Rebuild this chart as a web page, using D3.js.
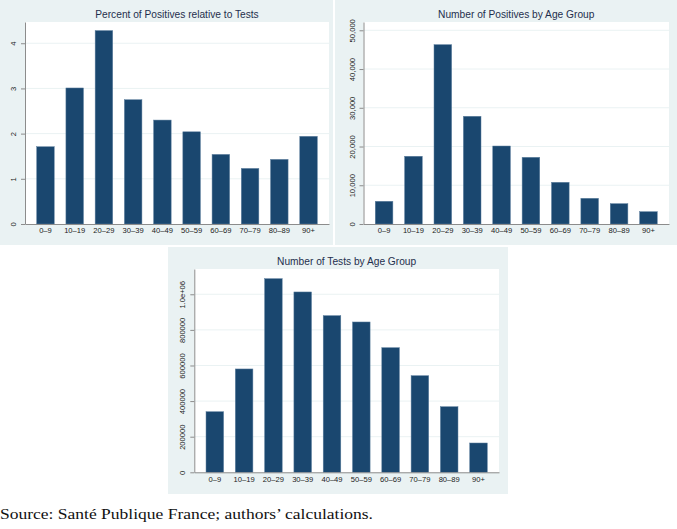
<!DOCTYPE html>
<html>
<head>
<meta charset="utf-8">
<script src="https://cdn.jsdelivr.net/npm/d3@7"></script>
<style>
  html, body { margin: 0; padding: 0; background: #fff; }
  svg { display: block; font-family: "Liberation Sans", Arial, Helvetica, sans-serif; }
</style>
</head>
<body>
<svg id="chart" width="677" height="529"></svg>
<script>
// Age groups (x categories)
const ageGroups = ["0–9", "10–19", "20–29", "30–39", "40–49", "50–59", "60–69", "70–79", "80–89", "90+"];

// Series values
const pctPositive = [1.71, 3.01, 4.28, 2.75, 2.30, 2.04, 1.54, 1.23, 1.43, 1.94];
const positives   = [5860, 17480, 46290, 27800, 20130, 17210, 10760, 6630, 5250, 3180];
const tests       = [340400, 580500, 1087700, 1013000, 880000, 844400, 700000, 542700, 368500, 164600];

// Y tick values
const pctTicks  = [0, 1, 2, 3, 4];
const posTicks  = [0, 10000, 20000, 30000, 40000, 50000];
const testTicks = [0, 200000, 400000, 600000, 800000, 1000000];

// Top of each value axis
const pctMax = 4.47, posMax = 52140, testMax = 1142000;

const svg = d3.select("#chart");

// Colours (Stata s2color look)
const panelBg = "#eaf2f3", barFill = "#1a476f", axisCol = "#8c8c8c";

function drawPanel(cfg) {
  const g = svg.append("g");

  // panel background
  g.append("rect")
    .attr("x", cfg.box.x).attr("y", cfg.box.y)
    .attr("width", cfg.box.w).attr("height", cfg.box.h)
    .attr("fill", panelBg);

  const p = cfg.plot;
  // plot area
  g.append("rect")
    .attr("x", p.left).attr("y", p.top)
    .attr("width", p.right - p.left).attr("height", p.bottom - p.top)
    .attr("fill", "#fff");

  const x = d3.scaleBand().domain(ageGroups).range([p.left, p.right])
    .paddingInner(0.4).paddingOuter(0.4);
  const y = d3.scaleLinear().domain([0, cfg.max]).range([p.bottom, p.top]);

  // gridlines
  g.selectAll(".grid").data(cfg.ticks.filter(t => t > 0)).enter()
    .append("line")
    .attr("x1", p.left).attr("x2", p.right)
    .attr("y1", d => y(d)).attr("y2", d => y(d))
    .attr("stroke", panelBg).attr("stroke-width", 1);

  // bars
  g.selectAll(".bar").data(cfg.values).enter()
    .append("rect")
    .attr("x", (d, i) => x(ageGroups[i]))
    .attr("y", d => y(d))
    .attr("width", x.bandwidth())
    .attr("height", d => y(0) - y(d))
    .attr("fill", barFill)
    .attr("stroke", "#5d7f9e").attr("stroke-width", 0.5);

  // y axis
  const ya = g.append("g").attr("transform", `translate(${p.left},0)`)
    .call(d3.axisLeft(y).tickValues(cfg.ticks).tickFormat(cfg.fmt).tickSize(4).tickSizeOuter(0));
  ya.select(".domain").attr("stroke", axisCol);
  ya.selectAll(".tick line").attr("stroke", axisCol);
  ya.selectAll(".tick text")
    .attr("x", null).attr("dy", null)
    .attr("y", -9)
    .attr("transform", "rotate(-90)")
    .attr("text-anchor", "middle")
    .attr("font-size", 7.6)
    .attr("fill", "#222");

  // x axis
  const xa = g.append("g").attr("transform", `translate(0,${p.bottom})`)
    .call(d3.axisBottom(x).tickSize(0).tickPadding(4));
  xa.select(".domain").attr("stroke", axisCol);
  xa.selectAll(".tick text").attr("font-size", 7.6).attr("fill", "#222");

  // title
  g.append("text")
    .attr("x", (p.left + p.right) / 2)
    .attr("y", p.top - 4.5)
    .attr("text-anchor", "middle")
    .attr("font-size", 10.2)
    .attr("fill", "#1f2f4d")
    .text(cfg.title);
}

drawPanel({
  title: "Percent of Positives relative to Tests",
  box: { x: 0, y: 0, w: 333, h: 245 },
  plot: { left: 25, top: 22, right: 329, bottom: 224 },
  values: pctPositive, ticks: pctTicks, max: pctMax,
  fmt: d => d
});

drawPanel({
  title: "Number of Positives by Age Group",
  box: { x: 335, y: 0, w: 342, h: 245 },
  plot: { left: 363.5, top: 22, right: 669, bottom: 224 },
  values: positives, ticks: posTicks, max: posMax,
  fmt: d3.format(",")
});

drawPanel({
  title: "Number of Tests by Age Group",
  box: { x: 168, y: 247, w: 340, h: 247 },
  plot: { left: 194.3, top: 269, right: 499, bottom: 472.3 },
  values: tests, ticks: testTicks, max: testMax,
  fmt: d => d === 1000000 ? "1.0e+06" : String(d)
});

// source note
svg.append("text")
  .attr("x", 0).attr("y", 519)
  .attr("font-family", "'Liberation Serif', 'DejaVu Serif', serif")
  .attr("font-size", 14.2)
  .attr("textLength", 373)
  .attr("lengthAdjust", "spacingAndGlyphs")
  .attr("fill", "#111")
  .text("Source: Santé Publique France; authors’ calculations.");
</script>
</body>
</html>
